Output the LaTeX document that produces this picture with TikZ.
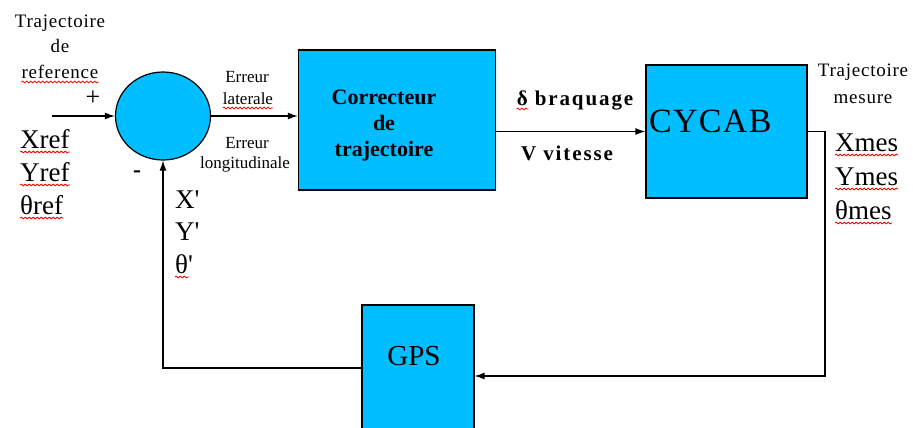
\documentclass[tikz,border=0pt]{standalone}
\usepackage{fontspec}
\setmainfont{Liberation Serif}
\usetikzlibrary{arrows.meta,shapes.geometric,decorations.pathmorphing}
\definecolor{bleu}{RGB}{0,190,255}

\begin{document}
\begin{tikzpicture}[x=1pt,y=-1pt,
  bloc/.style={rectangle,draw,fill=bleu,line width=1.2pt,inner sep=0pt},
  fleche/.style={line width=1.2pt,-{Latex[length=10pt,width=7pt]}},
  txt/.style={inner sep=0pt,anchor=base,font=\fontsize{19}{22}\selectfont\addfontfeatures{LetterSpace=4}},
  var/.style={inner sep=0pt,anchor=base west,font=\fontsize{27}{32}\selectfont},
  err/.style={inner sep=0pt,anchor=base,font=\fontsize{17}{19}\selectfont},
  gras/.style={inner sep=0pt,anchor=base,font=\bfseries\fontsize{21}{24}\selectfont\addfontfeatures{LetterSpace=9}},
  faute/.style={red,line width=0.8pt,decorate,decoration={snake,amplitude=0.9pt,segment length=4pt}}]

\clip (0,0) rectangle (913,428);

% blocs
\node[ellipse,draw,fill=bleu,line width=1.2pt,minimum width=95pt,minimum height=88pt] (somme) at (163,116) {};
\node[bloc,minimum width=197pt,minimum height=140pt] (corr) at (397,120) {};
\node[inner sep=0pt,anchor=north,align=center,font=\bfseries\fontsize{22}{26}\selectfont] (corrtxt) at (384,90) {Correcteur\\de\\trajectoire};
\node[bloc,text width=155pt,inner xsep=3pt,align=left,text height=67pt,text depth=66pt,anchor=base,font=\fontsize{34}{40}\selectfont\addfontfeatures{LetterSpace=4}] (cycab) at (726.5,132) {CYCAB};
\node[bloc,text width=112pt,align=center,text height=60pt,text depth=75pt,anchor=base,font=\fontsize{29}{34}\selectfont] (gps) at (418,365) {\hspace*{-8pt}GPS};

% textes
\node[txt] (traj1) at (60,28) {Trajectoire};
\node[txt] (traj2) at (60,53) {de};
\node[txt] (traj3) at (60,78) {reference};
\node[inner sep=0pt,font=\fontsize{26}{30}\selectfont] (plus) at (93,98) {+};
\node[inner sep=0pt,font=\bfseries\fontsize{24}{28}\selectfont] (moins) at (137,174) {-};
\node[var] (xref) at (20,148) {Xref};
\node[var] (yref) at (20,181) {Yref};
\node[var] (tref) at (20,214) {θref};
\node[var] (xp) at (175,208) {X\textquotesingle};
\node[var] (yp) at (175,240) {Y\textquotesingle};
\node[var] (tp) at (175,273) {θ\textquotesingle};
\node[err] (err1) at (247,82) {Erreur};
\node[err] (err2) at (248,104) {laterale};
\node[err] (err3) at (247,148) {Erreur};
\node[err] (err4) at (245,168) {longitudinale};
\node[gras] (braq) at (575,105) {δ braquage};
\node[gras] (vit) at (567,160) {V vitesse};
\node[txt] (mes1) at (863,77) {Trajectoire};
\node[txt] (mes2) at (863,103) {mesure};
\node[var] (xmes) at (835,151) {Xmes};
\node[var] (ymes) at (835,185) {Ymes};
\node[var] (tmes) at (835,219) {θmes};

% liaisons
\coordinate (entree) at (52,116);
\coordinate (coin) at (825,376);
\coordinate (retour) at (163,368);
\draw[fleche] (entree) -- (somme.west);
\draw[fleche] (somme.east) -- (somme.east -| corr.west);
\draw[fleche] (corr.east |- cycab.west) -- (cycab.west);
\draw[fleche] (cycab.east) -| (coin) -- (coin -| gps.east);
\draw[fleche] (gps.west |- retour) -- (retour) -- (somme.south);

% soulignes rouges
\foreach \n in {traj3,xref,yref,tref,err2,xmes,ymes,tmes}
  \draw[faute] ([yshift=-4pt]\n.base west) -- ([yshift=-4pt]\n.base east);
\draw[faute] ([yshift=-4pt]tp.base west) -- ++(14,0);
\draw[faute] ([yshift=-4pt]braq.base west) -- ++(12,0);
\end{tikzpicture}
\end{document}
